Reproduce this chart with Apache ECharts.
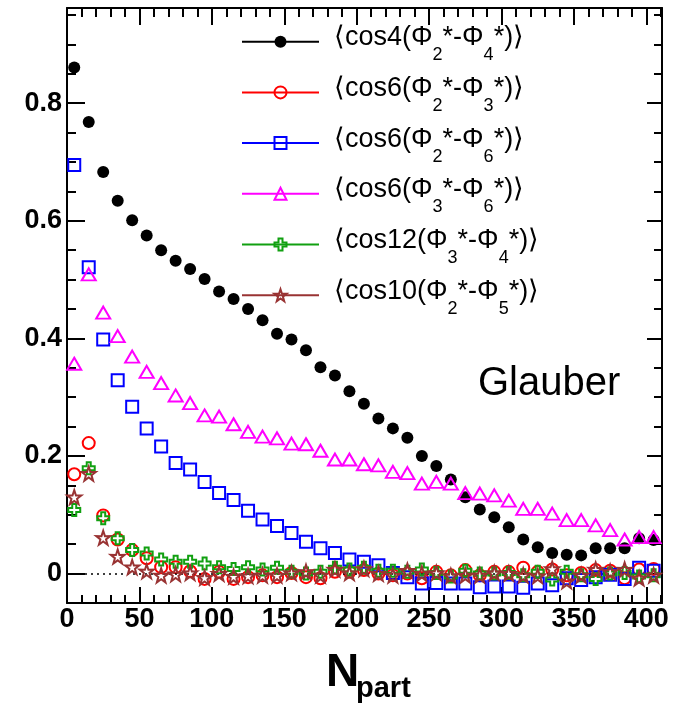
<!DOCTYPE html>
<html>
<head>
<meta charset="utf-8">
<script src="https://cdn.jsdelivr.net/npm/echarts@6/dist/echarts.min.js"></script>
<style>
  html, body { margin: 0; padding: 0; background: #fff; }
  #chart { width: 674px; height: 703px; }
</style>
</head>
<body>
<div id="chart"></div>
<script>
// Number of participants (bin centres)
const npart = [5, 15, 25, 35, 45, 55, 65, 75, 85, 95, 105, 115, 125, 135, 145, 155, 165, 175, 185, 195,
  205, 215, 225, 235, 245, 255, 265, 275, 285, 295, 305, 315, 325, 335, 345, 355, 365, 375, 385, 395, 405];

// <cos4(Phi2*-Phi4*)>
const cos4_24 = [0.861, 0.768, 0.683, 0.634, 0.601, 0.575, 0.550, 0.532, 0.518, 0.501, 0.480, 0.467, 0.450,
  0.431, 0.408, 0.398, 0.380, 0.351, 0.337, 0.310, 0.289, 0.264, 0.247, 0.231, 0.200, 0.183, 0.160, 0.130,
  0.109, 0.096, 0.079, 0.058, 0.045, 0.035, 0.032, 0.031, 0.043, 0.043, 0.043, 0.060, 0.057];
// <cos6(Phi2*-Phi3*)>
const cos6_23 = [0.169, 0.222, 0.099, 0.058, 0.040, 0.026, 0.011, 0.011, 0.004, -0.009, 0.003, -0.009, -0.006,
  -0.003, -0.006, 0.001, -0.006, -0.008, 0.003, 0.003, 0.006, 0.000, -0.003, 0.000, -0.008, 0.003, -0.003,
  0.006, -0.003, 0.003, 0.003, 0.010, 0.003, 0.007, -0.003, 0.001, 0.006, 0.005, -0.008, 0.007, 0.008];
// <cos6(Phi2*-Phi6*)>
const cos6_26 = [0.695, 0.521, 0.398, 0.329, 0.284, 0.247, 0.216, 0.188, 0.177, 0.156, 0.137, 0.125, 0.107,
  0.092, 0.081, 0.069, 0.054, 0.043, 0.035, 0.024, 0.020, 0.014, 0.001, -0.006, -0.017, -0.016, -0.017,
  -0.017, -0.023, -0.022, -0.022, -0.024, -0.017, -0.020, -0.008, -0.011, -0.006, -0.002, -0.009, 0.010, 0.005];
// <cos6(Phi3*-Phi6*)>
const cos6_36 = [0.357, 0.509, 0.444, 0.404, 0.369, 0.343, 0.324, 0.303, 0.290, 0.269, 0.267, 0.254, 0.241,
  0.233, 0.230, 0.221, 0.220, 0.209, 0.194, 0.194, 0.186, 0.184, 0.173, 0.171, 0.153, 0.156, 0.153, 0.137,
  0.136, 0.133, 0.124, 0.110, 0.110, 0.102, 0.091, 0.091, 0.082, 0.074, 0.058, 0.062, 0.062];
// <cos12(Phi3*-Phi4*)>
const cos12_34 = [0.108, 0.179, 0.094, 0.060, 0.040, 0.034, 0.024, 0.020, 0.020, 0.017, 0.011, 0.008, 0.011,
  0.007, 0.010, 0.003, 0.000, 0.003, 0.010, 0.007, 0.010, 0.005, 0.005, 0.003, 0.007, 0.001, -0.005, 0.005,
  0.000, 0.000, 0.001, -0.003, 0.003, -0.010, 0.003, -0.003, -0.009, 0.000, 0.001, -0.005, -0.003];
// <cos10(Phi2*-Phi5*)>
const cos10_25 = [0.130, 0.170, 0.061, 0.029, 0.011, 0.004, -0.003, -0.001, 0.001, -0.007, 0.000, -0.005, -0.004,
  -0.003, -0.003, 0.001, 0.003, -0.003, 0.007, 0.001, 0.008, 0.000, -0.003, 0.005, 0.000, 0.001, -0.004,
  -0.003, -0.003, 0.001, 0.000, -0.003, -0.004, 0.008, -0.013, -0.003, 0.007, 0.003, 0.007, -0.008, -0.003];

// Legend pieces: [harmonic, first plane index, second plane index]
const legendParts = [['cos4', '2', '4'], ['cos6', '2', '3'], ['cos6', '2', '6'],
  ['cos6', '3', '6'], ['cos12', '3', '4'], ['cos10', '2', '5']];

// Axis tick labels
const xMajorTicks = [0, 50, 100, 150, 200, 250, 300, 350, 400];
const yMajorTicks = [0, 0.2, 0.4, 0.6, 0.8];

const X_MIN = 0, X_MAX = 410.8;
const Y_MIN = -0.05, Y_MAX = 0.962;

const FONT = "'Liberation Sans', Arial, Helvetica, sans-serif";

const STAR = 'path://M50,0 L61.8,35.1 L97.6,34.5 L69,56 L79.4,90.5 L50,69.7 L20.6,90.5 L31,56 L2.4,34.5 L38.2,35.1 Z';
const OPEN_CROSS = 'path://M4,0 H8 V4 H12 V8 H8 V12 H4 V8 H0 V4 H4 Z';

const styles = [
  { values: cos4_24,  color: '#000000', symbol: 'circle',   size: 12, filled: true },
  { values: cos6_23,  color: '#ff0000', symbol: 'circle',   size: 12, filled: false },
  { values: cos6_26,  color: '#0000ff', symbol: 'rect',     size: 12, filled: false },
  { values: cos6_36,  color: '#ff00ff', symbol: 'triangle', size: [14, 12], filled: false },
  { values: cos12_34, color: '#11a011', symbol: OPEN_CROSS, size: 12, filled: false },
  { values: cos10_25, color: '#993333', symbol: STAR,       size: 14, filled: false }
];

const names = legendParts.map(p => p[0] + '(Φ' + p[1] + '*-Φ' + p[2] + '*)');
const richLabel = {};
legendParts.forEach((p, i) => {
  richLabel[names[i]] = '{a|⟨}{t|' + p[0] + '(Φ}{s|' + p[1] + '}{t|*-Φ}{s|' + p[2] + '}{t|*)}{t|⟩}';
});

const series = styles.map((st, k) => {
  const s = {
    type: 'line',
    name: names[k],
    data: npart.map((x, i) => [x, st.values[i]]),
    xAxisIndex: 0,
    yAxisIndex: 0,
    symbol: st.symbol,
    symbolSize: st.size,
    showSymbol: true,
    showAllSymbol: true,
    clip: false,
    lineStyle: { width: 0, color: st.color },
    itemStyle: {
      color: st.filled ? st.color : 'rgba(255,255,255,0)',
      borderColor: st.color,
      borderWidth: st.filled ? 0 : 2
    },
    emphasis: { disabled: true },
    animation: false,
    z: 3 + k
  };
  if (k === 0) {
    // dotted zero reference line
    s.markLine = {
      silent: true,
      symbol: ['none', 'none'],
      label: { show: false },
      lineStyle: { color: '#000', type: [2, 4], width: 1.5 },
      data: [{ yAxis: 0 }],
      animation: false
    };
  }
  return s;
});

const legendCenters = [41.7, 92.4, 143.1, 193.8, 244.5, 295.2];
const LEG_H = 41;
const legendRich = {
  a: { fontFamily: FONT, fontSize: 27, color: '#000', lineHeight: LEG_H, verticalAlign: 'top', padding: [3, 0, 0, 10] },
  t: { fontFamily: FONT, fontSize: 27, color: '#000', lineHeight: LEG_H, verticalAlign: 'top', padding: [3, 0, 0, 0] },
  s: { fontFamily: FONT, fontSize: 18, color: '#000', lineHeight: LEG_H, verticalAlign: 'top', padding: [25, 0, 0, 0] }
};
const legends = names.map((n, i) => ({
  data: [n],
  left: 241,
  top: legendCenters[i] - LEG_H / 2,
  orient: 'horizontal',
  padding: 0,
  itemGap: 0,
  itemWidth: 77,
  itemHeight: 15,
  selectedMode: false,
  lineStyle: { width: 2, opacity: 1 },
  formatter: name => richLabel[name],
  textStyle: { rich: legendRich }
}));

const tickFont = { fontFamily: FONT, fontSize: 27, fontWeight: 'bold', color: '#000' };

// Major and minor ticks live on separate axes so each can have its own length;
// ticks point inwards on all four sides of the frame.
function xAxisDef(pos, major) {
  return {
    type: 'value', position: pos, min: X_MIN, max: X_MAX,
    interval: major ? 50 : 10,
    axisLine: { show: major, onZero: false, lineStyle: { color: '#000', width: 2 } },
    axisTick: {
      show: true, inside: true,
      length: major ? (pos === 'bottom' ? 16 : 17) : (pos === 'bottom' ? 8 : 9),
      lineStyle: { color: '#000', width: 2 },
      customValues: major ? xMajorTicks : undefined
    },
    axisLabel: (major && pos === 'bottom')
      ? Object.assign({ show: true, margin: 3, customValues: xMajorTicks, formatter: v => String(v) }, tickFont)
      : { show: false },
    splitLine: { show: false }
  };
}
function yAxisDef(pos, major) {
  return {
    type: 'value', position: pos, min: Y_MIN, max: Y_MAX,
    interval: 0.05,
    axisLine: { show: major, onZero: false, lineStyle: { color: '#000', width: 2 } },
    axisTick: {
      show: true, inside: true,
      length: major ? (pos === 'left' ? 18 : 15) : (pos === 'left' ? 9 : 8),
      lineStyle: { color: '#000', width: 2 },
      customValues: major ? yMajorTicks : undefined
    },
    axisLabel: (major && pos === 'left')
      ? Object.assign({ show: true, margin: 5, customValues: yMajorTicks,
          formatter: v => (v === 0 ? '0' : v.toFixed(1)) }, tickFont)
      : { show: false },
    splitLine: { show: false }
  };
}

const option = {
  animation: false,
  backgroundColor: '#fff',
  grid: { left: 67, right: 12, top: 8, bottom: 100, containLabel: false },
  xAxis: [xAxisDef('bottom', true), xAxisDef('bottom', false), xAxisDef('top', true), xAxisDef('top', false)],
  yAxis: [yAxisDef('left', true), yAxisDef('left', false), yAxisDef('right', true), yAxisDef('right', false)],
  legend: legends,
  series: series,
  graphic: [
    {
      type: 'text', left: 478, top: 364, silent: true,
      style: { text: 'Glauber', fontFamily: FONT, fontSize: 40, fill: '#000' }
    },
    {
      type: 'text', left: 326, top: 650, silent: true,
      style: { text: 'N', fontFamily: FONT, fontSize: 46, fontWeight: 'bold', fill: '#000' }
    },
    {
      type: 'text', left: 356, top: 674, silent: true,
      style: { text: 'part', fontFamily: FONT, fontSize: 29, fontWeight: 'bold', fill: '#000' }
    }
  ]
};

const chart = echarts.init(document.getElementById('chart'), null, { renderer: 'canvas' });
chart.setOption(option);
</script>
</body>
</html>
